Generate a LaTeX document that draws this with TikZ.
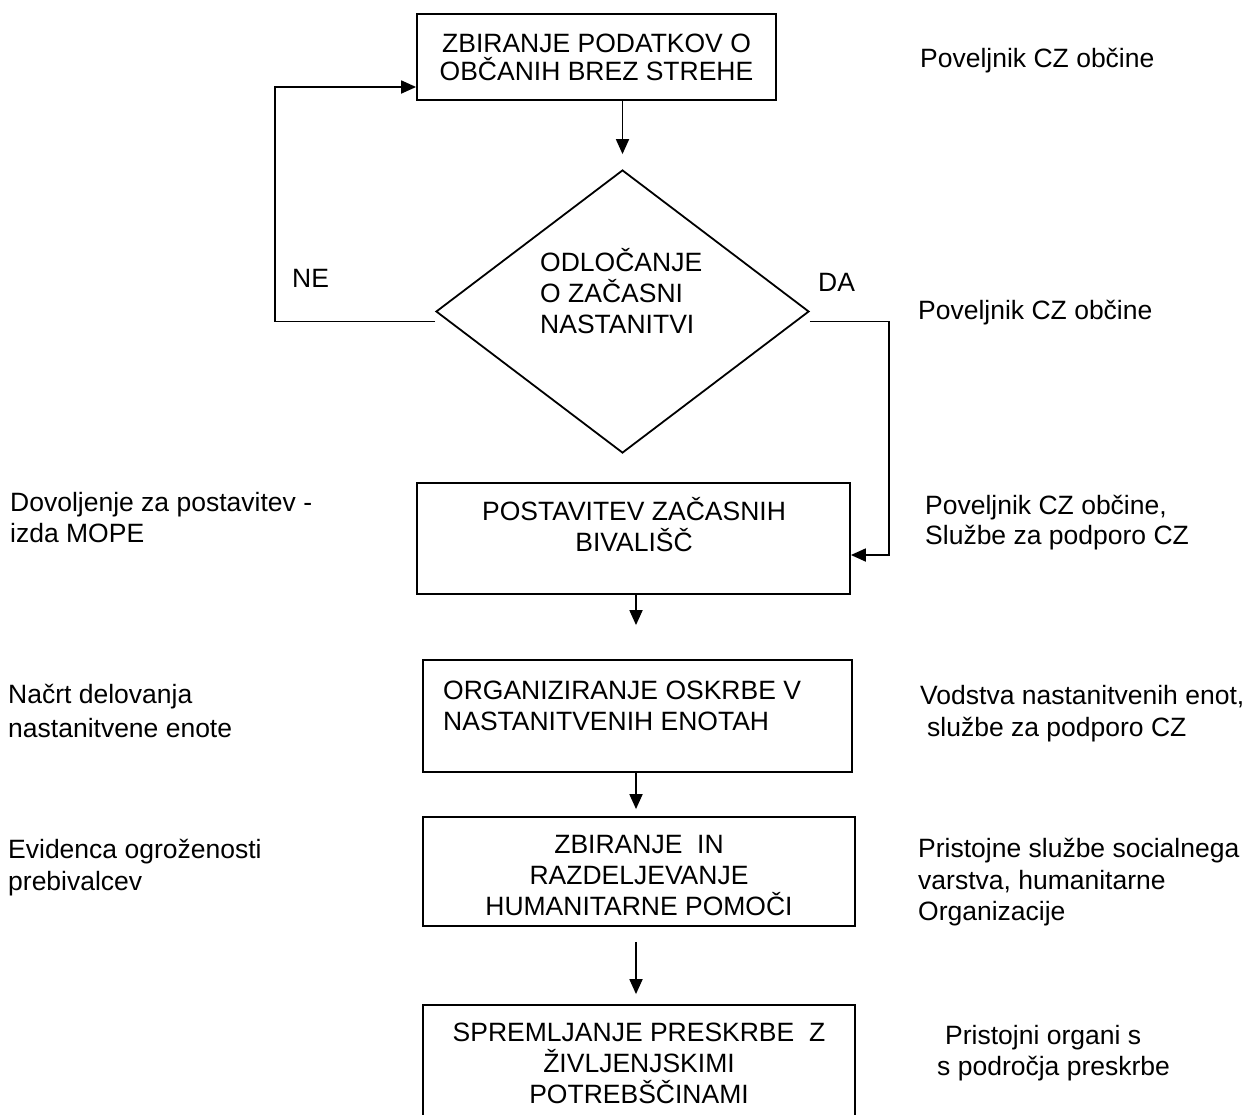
\documentclass[tikz,border=0pt]{standalone}
\usepackage{fontspec}
\setmainfont{Liberation Sans}
\usetikzlibrary{shapes.geometric,arrows.meta}
\newcommand{\fl}{\rule{0pt}{25pt}}
\tikzset{
  box/.style={draw, rectangle, inner sep=0pt, line width=1.8pt},
  dec/.style={draw, diamond, inner sep=0pt, line width=1.8pt},
  arr/.style={line width=1.8pt, -{Triangle[length=15pt,width=13pt]}},
  txtc/.style={anchor=north, inner sep=0pt, align=center, font=\fontsize{26.5}{31}\selectfont},
  txtl/.style={anchor=north west, inner sep=0pt, align=left, font=\fontsize{26.5}{31}\selectfont},
  wide/.style={font=\fontsize{26.5}{34}\selectfont},
}
\begin{document}
\begin{tikzpicture}[x=1pt,y=-1pt]
\clip (0,0) rectangle (1252,1114);
\fill[white] (0,0) rectangle (1252,1114);
% boxes
\node[box, minimum width=359pt, minimum height=86pt] (box1) at (596.5,57) {};
\node[dec, minimum width=373pt, minimum height=283pt] (dia) at (622.5,311.5) {};
\node[box, minimum width=433pt, minimum height=111pt] (box2) at (633.5,538.5) {};
\node[box, minimum width=429pt, minimum height=112pt] (box3) at (637.5,716) {};
\node[box, minimum width=432pt, minimum height=109pt] (box4) at (639,871.5) {};
\node[box, minimum width=432pt, minimum height=125pt] (box5) at (639,1067.5) {};
% texts in boxes
\node[txtc, font=\fontsize{26.5}{28}\selectfont] (t1) at (596.5,43-15.7) {\fl ZBIRANJE PODATKOV O\\OBČANIH BREZ STREHE};
\node[txtl] (td) at (540,262-15.7) {\fl ODLOČANJE\\O ZAČASNI\\NASTANITVI};
\node[txtc] (t2) at (634,511-15.7) {\fl POSTAVITEV ZAČASNIH\\BIVALIŠČ};
\node[txtl] (t3) at (443,690-15.7) {\fl ORGANIZIRANJE OSKRBE V\\NASTANITVENIH ENOTAH};
\node[txtc] (t4) at (639,844-15.7) {\fl ZBIRANJE~ IN\\RAZDELJEVANJE\\HUMANITARNE POMOČI};
\node[txtc] (t5) at (639,1032-15.7) {\fl SPREMLJANJE PRESKRBE~ Z\\ŽIVLJENJSKIMI\\POTREBŠČINAMI};
% branch labels
\node[txtl] (ne) at (292,278-15.7) {\fl NE};
\node[txtl] (da) at (818,282-15.7) {\fl DA};
% right labels
\node[txtl] (r1) at (920,58-15.7) {\fl Poveljnik CZ občine};
\node[txtl] (r2) at (918,310-15.7) {\fl Poveljnik CZ občine};
\node[txtl, font=\fontsize{26.5}{30}\selectfont] (r3) at (925,505-15.7) {\fl Poveljnik CZ občine,\\Službe za podporo CZ};
\node[txtl, font=\fontsize{26.5}{32}\selectfont] (r4) at (920,695-15.7) {\fl Vodstva nastanitvenih enot,\\\hspace*{7pt}službe za podporo CZ};
\node[txtl, font=\fontsize{26.5}{31.5}\selectfont] (r5) at (918,848-15.7) {\fl Pristojne službe socialnega\\varstva, humanitarne\\Organizacije};
\node[txtl] (r6) at (937,1035-15.7) {\fl\hspace*{8pt}Pristojni organi s\\s področja preskrbe};
% left labels
\node[txtl] (l1) at (10,502-15.7) {\fl Dovoljenje za postavitev -\\izda MOPE};
\node[txtl, wide] (l2) at (8,694-15.7) {\fl Načrt delovanja\\nastanitvene enote};
\node[txtl, font=\fontsize{26.5}{32}\selectfont] (l3) at (8,849-15.7) {\fl Evidenca ogroženosti\\prebivalcev};
% connectors
\draw[arr, shorten >=15pt] (box1.south -| dia.north) -- (dia.north);
\draw[arr] ([yshift=-10pt]dia.west) -- ++(-160,0) |- ([yshift=-30pt]box1.west);
\draw[arr] ([yshift=-10pt]dia.east) -- ++(79,0) |- ([yshift=-16.5pt]box2.east);
\draw[arr, shorten >=34pt] ([xshift=2.5pt]box2.south) -- ([xshift=2.5pt]box2.south |- box3.north);
\draw[arr, shorten >=7pt] ([xshift=-1.5pt]box3.south) -- ([xshift=-1.5pt]box3.south |- box4.north);
\draw[arr, shorten <=15pt, shorten >=10pt] ([xshift=-3pt]box4.south) -- ([xshift=-3pt]box4.south |- box5.north);
\end{tikzpicture}
\end{document}
